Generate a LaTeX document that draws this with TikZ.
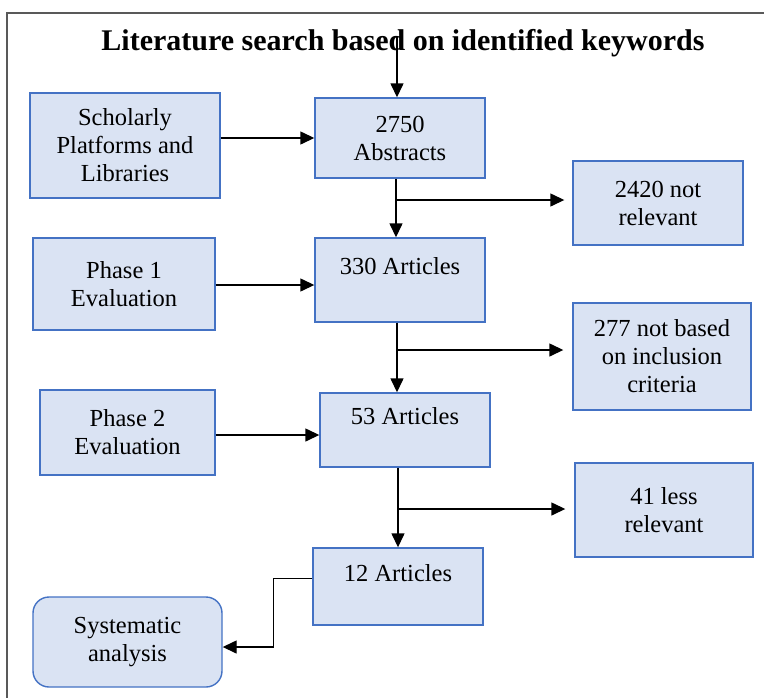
\documentclass[tikz,border=0pt]{standalone}
\usepackage{fontspec}
\setmainfont{Liberation Serif}
\usepackage{xcolor}
\usetikzlibrary{arrows.meta}

\definecolor{boxfill}{HTML}{DAE3F3}
\definecolor{boxline}{HTML}{4472C4}
\definecolor{frameline}{HTML}{595959}

\tikzset{
    box/.style={rectangle, draw=boxline, fill=boxfill, line width=1.4pt, align=center,
        inner sep=0pt, font=\fontsize{24.5}{28}\selectfont},
    arr/.style={line width=1.4pt, -{Triangle[length=14pt,width=13pt]}}
}

\begin{document}
\begin{tikzpicture}[x=1pt, y=-1pt]

        \useasboundingbox (0,0) rectangle (764,697);
        \clip (0,0) rectangle (764,697);

        % frame
        \draw[frameline, line width=1.6pt] (7,740) -- (7,13) -- (800,13);

        % title
        \node[anchor=base, font=\fontsize{30}{34}\selectfont\bfseries] (title) at (403,50) {Literature search based on identified keywords};

        % Nodes
        \node[box, minimum width=170pt, minimum height=80pt] (abs) at (400,138) {2750\\Abstracts};
        \node[box, minimum width=170pt, minimum height=84pt] (nr) at (658,203) {2420 not\\relevant};
        \node[box, minimum width=170pt, minimum height=84pt] (a330) at (400,280) {330 Articles\\\mbox{}};
        \node[box, minimum width=190pt, minimum height=105pt] (sch) at (125,145.5) {Scholarly\\Platforms and\\Libraries};
        \node[box, minimum width=182pt, minimum height=92pt] (p1) at (124,284) {Phase 1\\Evaluation};
        \node[box, minimum width=178pt, minimum height=107pt] (nc) at (662,356.5) {277 not based\\on inclusion\\criteria};
        \node[box, minimum width=170pt, minimum height=74pt] (a53) at (405,430) {53 Articles\\\mbox{}};
        \node[box, minimum width=175pt, minimum height=85pt] (p2) at (127.5,432.5) {Phase 2\\Evaluation};
        \node[box, minimum width=178pt, minimum height=94pt] (lr) at (664,510) {41 less\\relevant};
        \node[box, minimum width=170pt, minimum height=77pt] (a12) at (398,586.5) {12 Articles\\\mbox{}};
        \node[box, rounded corners=16pt, minimum width=189pt, minimum height=90pt] (sys) at (127.5,642) {Systematic\\analysis};

        % branch points
        \coordinate (top) at (397,36);
        \coordinate (s1) at (396,200);
        \coordinate (s2) at (397,350);
        \coordinate (s3) at (398,509);

        % Edges
        \draw[arr] (top) -- (top |- abs.north);
        \draw[arr] (sch.east |- abs.west) -- (abs.west);
        \draw[arr] (s1 |- abs.south) -- (s1 |- a330.north);
        \draw[arr, shorten >=8pt] (s1) -- (s1 -| nr.west);
        \draw[arr] (p1.east |- 0,285) -- (a330.west |- 0,285);
        \draw[arr] (s2 |- a330.south) -- (s2 |- a53.north);
        \draw[arr, shorten >=9pt] (s2) -- (s2 -| nc.west);
        \draw[arr] (p2.east |- 0,435) -- (a53.west |- 0,435);
        \draw[arr] (s3 |- a53.south) -- (s3 |- a12.north);
        \draw[arr, shorten >=9pt] (s3) -- (s3 -| lr.west);
        \draw[arr] ([yshift=8pt]a12.west) -- ++(-39,0) |- ([yshift=-5pt]sys.east);

\end{tikzpicture}
\end{document}
